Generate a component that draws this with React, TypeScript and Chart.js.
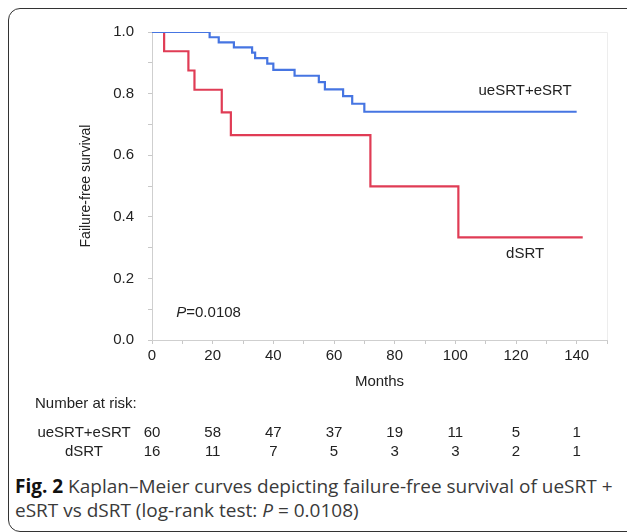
import React, { useEffect, useRef } from 'react';
import { Chart, registerables } from 'chart.js';

Chart.register(...registerables);

// Kaplan–Meier step data (month of event, survival after event)
const blueMonths = [0, 19, 22, 27, 33, 34, 38, 40, 47, 55, 57, 63, 66, 70, 140];
const blueSurvival = [1, 0.983, 0.966, 0.95, 0.933, 0.915, 0.897, 0.877, 0.858, 0.837, 0.814, 0.792, 0.767, 0.741, 0.741];
const redMonths = [0, 4, 12, 14, 23, 26, 72, 101, 142];
const redSurvival = [1, 0.9375, 0.875, 0.8125, 0.739, 0.665, 0.499, 0.333, 0.333];

const groupNames = ['ueSRT+eSRT', 'dSRT'];
const riskTimes = [0, 20, 40, 60, 80, 100, 120, 140];
const riskBlue = [60, 58, 47, 37, 19, 11, 5, 1];
const riskRed = [16, 11, 7, 5, 3, 3, 2, 1];
const pValueText = '=0.0108';

const BLUE = '#4675e2';
const RED = '#e03c55';
const TEXT = '#222222';
const FONT = '"Liberation Sans", Arial, sans-serif';

const annotPlugin = {
  id: 'annot',
  beforeDatasetsDraw(chart: any) {
    const { ctx, chartArea } = chart;
    ctx.save();
    ctx.strokeStyle = '#ededed';
    ctx.lineWidth = 1;
    ctx.beginPath();
    ctx.moveTo(chartArea.left, Math.round(chartArea.top) + 0.5);
    ctx.lineTo(Math.round(chartArea.right) + 0.5, Math.round(chartArea.top) + 0.5);
    ctx.lineTo(Math.round(chartArea.right) + 0.5, chartArea.bottom);
    ctx.stroke();
    ctx.restore();
  },
  afterDraw(chart: any) {
    const { ctx, scales } = chart;
    const x = scales.x;
    const y = scales.y;
    ctx.save();
    ctx.fillStyle = TEXT;
    ctx.textBaseline = 'middle';
    ctx.font = `15px ${FONT}`;
    ctx.textAlign = 'center';
    ctx.fillText(groupNames[0], x.getPixelForValue(123), y.getPixelForValue(0.81));
    ctx.fillText(groupNames[1], x.getPixelForValue(123), y.getPixelForValue(0.28));

    // P value
    ctx.textAlign = 'left';
    let px = x.getPixelForValue(8);
    const py = y.getPixelForValue(0.088);
    ctx.font = `italic 15px ${FONT}`;
    ctx.fillText('P', px, py);
    px += ctx.measureText('P').width;
    ctx.font = `15px ${FONT}`;
    ctx.fillText(pValueText, px, py);

    // Number at risk table
    ctx.font = `15px ${FONT}`;
    ctx.textAlign = 'left';
    ctx.fillText('Number at risk:', 35, 404);
    const rowY = [433, 452];
    const labelCenter = 84;
    ctx.textAlign = 'center';
    ctx.fillText(groupNames[0], labelCenter, rowY[0]);
    ctx.fillText(groupNames[1], labelCenter, rowY[1]);
    riskTimes.forEach((t, i) => {
      const tx = x.getPixelForValue(t);
      ctx.fillText(String(riskBlue[i]), tx, rowY[0]);
      ctx.fillText(String(riskRed[i]), tx, rowY[1]);
    });
    ctx.restore();
  },
};

export default function App() {
  const canvasRef = useRef<HTMLCanvasElement | null>(null);

  useEffect(() => {
    if (!canvasRef.current) return;
    const chart = new Chart(canvasRef.current, {
      type: 'line',
      data: {
        datasets: [
          {
            label: groupNames[0],
            data: blueMonths.map((m, i) => ({ x: m, y: blueSurvival[i] })),
            borderColor: BLUE,
            borderWidth: 2.2,
            stepped: 'before',
            pointRadius: 0,
            fill: false,
          },
          {
            label: groupNames[1],
            data: redMonths.map((m, i) => ({ x: m, y: redSurvival[i] })),
            borderColor: RED,
            borderWidth: 2.2,
            stepped: 'before',
            pointRadius: 0,
            fill: false,
          },
        ],
      },
      options: {
        responsive: false,
        animation: false,
        layout: { padding: { left: 0, right: 20, top: 32, bottom: 79 } },
        plugins: { legend: { display: false }, tooltip: { enabled: false } },
        scales: {
          x: {
            type: 'linear',
            min: 0,
            max: 150,
            afterFit(scale: any) {
              scale.height = 51;
            },
            ticks: {
              stepSize: 10,
              autoSkip: false,
              maxRotation: 0,
              padding: 3,
              color: TEXT,
              font: { family: FONT, size: 15 },
              callback: (v: any) => (v % 20 === 0 && v <= 140 ? String(v) : ''),
            },
            grid: { drawOnChartArea: false, drawTicks: true, tickLength: 4, color: '#c8c8c8' },
            border: { color: '#cfcfcf', width: 1 },
            title: {
              display: true,
              text: 'Months',
              color: TEXT,
              font: { family: FONT, size: 15 },
              padding: { top: 0, bottom: 0 },
            },
          },
          y: {
            type: 'linear',
            min: 0,
            max: 1,
            afterFit(scale: any) {
              scale.width = 152;
            },
            ticks: {
              stepSize: 0.1,
              autoSkip: false,
              padding: 14,
              color: TEXT,
              font: { family: FONT, size: 15 },
              callback: (v: any) => {
                const r = Math.round(v * 10);
                return r % 2 === 0 ? (r / 10).toFixed(1) : '';
              },
            },
            grid: { drawOnChartArea: false, drawTicks: true, tickLength: 4, color: '#c8c8c8' },
            border: { color: '#cfcfcf', width: 1 },
            title: {
              display: true,
              text: 'Failure-free survival',
              color: TEXT,
              font: { family: FONT, size: 14 },
              padding: { top: 78, bottom: 0 },
            },
          },
        },
      },
      plugins: [annotPlugin],
    } as any);
    return () => chart.destroy();
  }, []);

  return (
    <div
      style={{
        position: 'fixed',
        left: 0,
        top: 0,
        width: 627,
        height: 532,
        overflow: 'hidden',
        background: '#ffffff',
      }}
    >
      <div
        style={{
          position: 'absolute',
          left: 8,
          top: 8,
          width: 660,
          height: 524,
          border: '1.5px solid #333',
          borderRadius: 12,
          boxSizing: 'border-box',
        }}
      />
      <canvas
        ref={canvasRef}
        width={627}
        height={470}
        style={{ position: 'absolute', left: 0, top: 0, width: 627, height: 470 }}
      />
      <div
        style={{
          position: 'absolute',
          left: 15,
          top: 474,
          width: 612,
          whiteSpace: 'nowrap',
          fontFamily: '"Open Sans", sans-serif',
          fontSize: 19,
          lineHeight: '24px',
          color: '#3a3a3a',
        }}
      >
        <span style={{ fontWeight: 700, color: '#111' }}>Fig. 2</span> Kaplan–Meier curves depicting failure-free survival of ueSRT +
        <br />
        eSRT vs dSRT (log-rank test: <i>P</i> = 0.0108)
      </div>
    </div>
  );
}
